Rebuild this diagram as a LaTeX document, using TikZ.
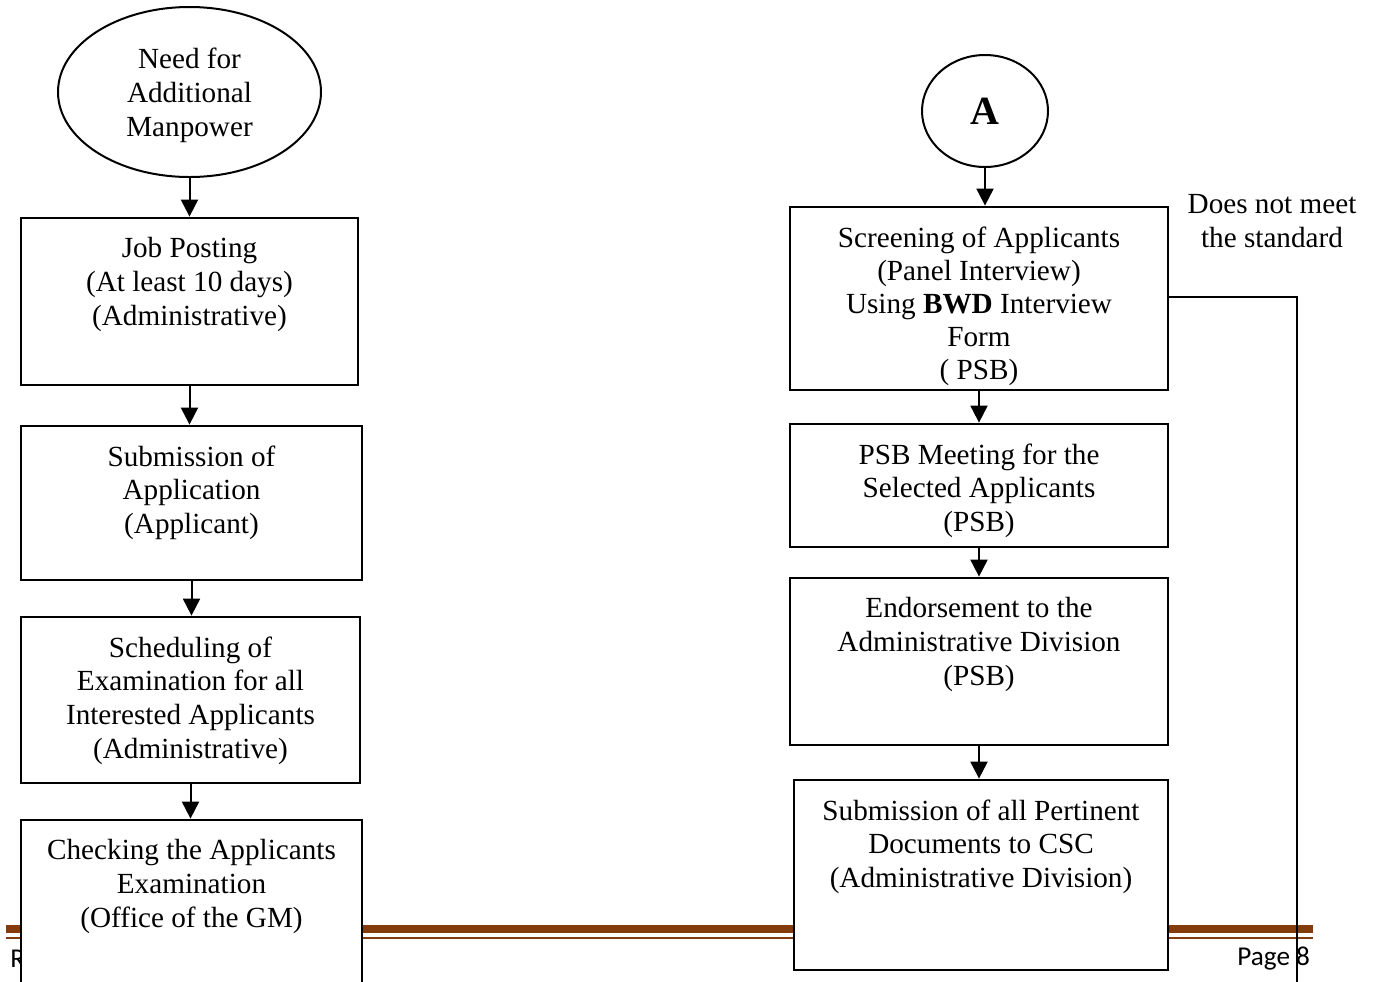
\documentclass[tikz,border=0pt]{standalone}
\usepackage{fontspec}
\setmainfont{Liberation Serif}
\newfontfamily\footfont{Carlito}
\usepackage{tikz}
\usetikzlibrary{arrows.meta, shapes.geometric}
\definecolor{footbrown}{RGB}{132,60,12}

\begin{document}
\begin{tikzpicture}[x=0.5pt, y=-0.5pt,
  font=\fontsize{14.6}{16.9}\selectfont,
  stepbox/.style={rectangle, draw=black, line width=1.4pt, fill=white},
  steptext/.style={anchor=north, align=center, inner sep=0pt, yshift=-10.3pt},
  flow/.style={-{Triangle[width=8.5pt, length=8.5pt]}, line width=1pt},
  footnote/.style={font=\footfont\fontsize{13.6}{15}\selectfont, inner sep=0pt}]
  \clip (0, 0) rectangle (1375, 981);

  \fill[footbrown] (6, 925) rectangle (1313, 933);
  \fill[footbrown] (6, 937) rectangle (1313, 939);
  \node[footnote, anchor=west] (footleft) at (10, 959) {R};
  \node[footnote, anchor=west] (pagenum) at (1237, 959) {Page 8};

  \node[ellipse, draw=black, line width=1pt, minimum width=131.5pt, minimum height=85pt, inner sep=0pt, label={[align=center, font=\fontsize{14.6}{17}\selectfont, yshift=-1.6pt]center:{Need for\\Additional\\Manpower}}] (need) at (189.5, 92) {};
  \node[stepbox, minimum width=168.5pt, minimum height=83.5pt, label={[steptext]north:{Job Posting\\(At least 10 days)\\(Administrative)}}] (jobpost) at (189.5, 301.5) {};
  \node[stepbox, minimum width=170.5pt, minimum height=77pt, label={[steptext]north:{Submission of\\Application\\(Applicant)}}] (submit) at (191.5, 503) {};
  \node[stepbox, minimum width=169.5pt, minimum height=83pt, label={[steptext]north:{Scheduling of\\Examination for all\\Interested Applicants\\(Administrative)}}] (sched) at (190.5, 700) {};
  \node[stepbox, minimum width=170.5pt, minimum height=90pt, label={[steptext]north:{Checking the Applicants\\Examination\\(Office of the GM)}}] (check) at (191.5, 910) {};

  \node[ellipse, draw=black, line width=1pt, minimum width=63pt, minimum height=56pt, inner sep=0pt, font=\fontsize{20}{24}\selectfont\bfseries] (conA) at (985, 111) {A};
  \node[stepbox, minimum width=189pt, minimum height=91.5pt, label={[steptext, font=\fontsize{14.6}{16.6}\selectfont]north:{Screening of Applicants\\(Panel Interview)\\Using \textbf{BWD} Interview\\Form\\( PSB)}}] (screen) at (979, 298.5) {};
  \node[stepbox, minimum width=189pt, minimum height=61.5pt, label={[steptext]north:{PSB Meeting for the\\Selected Applicants\\(PSB)}}] (meeting) at (979, 485.5) {};
  \node[stepbox, minimum width=189pt, minimum height=83.5pt, label={[steptext]north:{Endorsement to the\\Administrative Division\\(PSB)}}] (endorse) at (979, 661.5) {};
  \node[stepbox, minimum width=187pt, minimum height=95pt, label={[steptext]north:{Submission of all Pertinent\\Documents to CSC\\(Administrative Division)}}] (docs) at (981, 875) {};
  \node[align=center, inner sep=0pt] (standard) at (1272, 221) {Does not meet\\the standard};
  \coordinate (fbend) at (1297, 995);

  \draw[flow] (need.south) -- (need.south |- jobpost.north);
  \draw[flow] (jobpost.south) -- (jobpost.south |- submit.north);
  \draw[flow] (submit.south) -- (submit.south |- sched.north);
  \draw[flow] (sched.south) -- (sched.south |- check.north);
  \draw[flow] (conA.south) -- (conA.south |- screen.north);
  \draw[flow] (screen.south) -- (screen.south |- meeting.north);
  \draw[flow] (meeting.south) -- (meeting.south |- endorse.north);
  \draw[flow] (endorse.south) -- (endorse.south |- docs.north);
  \draw[line width=1pt] ([yshift=1pt]screen.east) -| (fbend);
\end{tikzpicture}
\end{document}
